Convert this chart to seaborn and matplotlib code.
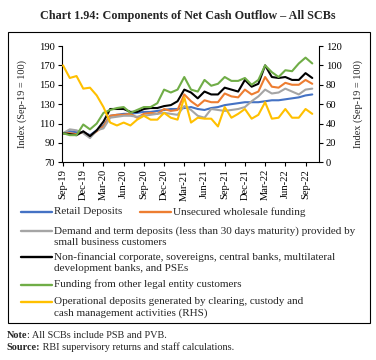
import pandas as pd
import matplotlib
matplotlib.use("Agg")
import matplotlib.pyplot as plt
import seaborn as sns
from matplotlib.lines import Line2D
from matplotlib.patches import Rectangle

# monthly index, Sep-19 = 100
months = pd.date_range("2019-09-01", "2022-10-01", freq="MS").strftime("%b-%y").tolist()

retail = [100, 102, 101, 101, 98, 103, 108, 118, 119, 120, 120, 121, 122, 122, 123, 124,
          125, 125, 126, 127, 125, 124, 126, 127, 129, 130, 131, 132, 132, 132, 133, 134,
          134, 135, 136, 137, 139, 140]
unsecured = [100, 100, 99, 101, 97, 102, 107, 118, 119, 119, 120, 116, 120, 121, 120, 125,
             123, 124, 140, 133, 128, 134, 132, 132, 141, 138, 137, 145, 140, 143, 158, 148,
             147, 152, 150, 150, 155, 151]
demand_term = [100, 104, 103, 100, 95, 103, 105, 116, 117, 118, 118, 117, 118, 119, 120, 121,
               120, 119, 128, 124, 118, 116, 125, 124, 123, 124, 125, 127, 133, 138, 145, 141,
               142, 146, 143, 140, 145, 146]
non_fin = [100, 99, 98, 102, 97, 103, 112, 125, 125, 125, 122, 122, 125, 126, 126, 128,
           129, 133, 145, 142, 136, 143, 140, 140, 147, 145, 143, 155, 148, 151, 170, 158,
           157, 158, 155, 155, 162, 157]
other_legal = [100, 98, 98, 109, 104, 110, 121, 124, 126, 127, 121, 124, 127, 127, 131, 145,
               142, 145, 158, 145, 143, 155, 149, 151, 158, 154, 154, 157, 150, 155, 170, 163,
               158, 165, 164, 172, 178, 172]
# right-hand scale
operational = [100, 87, 89, 76, 77, 69, 57, 41, 38, 41, 38, 44, 48, 44, 44, 51,
               46, 44, 67, 41, 46, 45, 45, 37, 57, 46, 50, 55, 45, 49, 62, 45,
               46, 55, 46, 46, 55, 50]

series_names = [
    "Retail Deposits",
    "Unsecured wholesale funding",
    "Demand and term deposits",
    "Non-financial corporate",
    "Funding from other legal entity customers",
]
series_colors = ["#4472C4", "#ED7D31", "#A5A5A5", "#000000", "#70AD47"]
op_color = "#FFC000"

tick_labels = ["Sep-19", "Dec-19", "Mar-20", "Jun-20", "Sep-20", "Dec-20", "Mar-21",
               "Jun-21", "Sep-21", "Dec-21", "Mar-22", "Jun-22", "Sep-22"]

df = pd.DataFrame({"idx": range(len(months))})
for name, vals in zip(series_names, [retail, unsecured, demand_term, non_fin, other_legal]):
    df[name] = vals
long = df.melt(id_vars="idx", var_name="series", value_name="value")

sns.set_style("ticks")
plt.rcParams["font.family"] = ["Liberation Serif", "DejaVu Serif"]

W, H = 376, 360
fig = plt.figure(figsize=(W / 100, H / 100), dpi=100)
ax = fig.add_axes([61.7 / W, 1 - 162.3 / H, 257.3 / W, 116.3 / H])

sns.lineplot(data=long, x="idx", y="value", hue="series", hue_order=series_names,
             palette=dict(zip(series_names, series_colors)), linewidth=1.5,
             legend=False, ax=ax)
ax2 = ax.twinx()
sns.lineplot(x=df["idx"], y=operational, color=op_color, linewidth=1.5, ax=ax2)

ax.set_xlim(-0.2, 38)
ax.set_ylim(70, 190)
ax.set_yticks(range(70, 191, 20))
ax2.set_ylim(0, 120)
ax2.set_yticks(range(0, 121, 20))
ax.set_xticks(range(0, 37, 3))
ax.set_xticklabels(tick_labels, rotation=90)
ax.set_xlabel("")

for a in (ax, ax2):
    a.tick_params(direction="out", length=3, width=0.8, labelsize=7.6, pad=2, colors="black")
    for s in a.spines.values():
        s.set_linewidth(0.8)
        s.set_color("black")
ax.spines["top"].set_visible(False)
ax.spines["right"].set_visible(False)
ax2.spines["top"].set_visible(False)
ax2.spines["left"].set_visible(False)
ax2.spines["bottom"].set_visible(False)

ax.set_ylabel("Index (Sep-19 = 100)", fontsize=7.4)
ax2.set_ylabel("Index (Sep-19 = 100)", fontsize=7.4)
ax.yaxis.set_label_coords(-0.136, 0.5)
ax2.yaxis.set_label_coords(1.132, 0.5)

# frame and title
fig.patches.append(Rectangle((8.3 / W, 1 - 322.7 / H), 361.7 / W, 291 / H,
                             transform=fig.transFigure, fill=False, edgecolor="black", lw=0.8))
fig.text(0.5, 1 - 16 / H, "Chart 1.94: Components of Net Cash Outflow \u2013 All SCBs",
         ha="center", va="center", fontsize=8.7, fontweight="bold")

# legend, drawn by hand to follow the original layout
legend_rows = [
    (21, 212, series_colors[0], ["Retail Deposits"]),
    (140, 212, series_colors[1], ["Unsecured wholesale funding"]),
    (21, 231, series_colors[2], ["Demand and term deposits (less than 30 days maturity) provided by",
                                 "small business customers"]),
    (21, 257, series_colors[3], ["Non-financial corporate, sovereigns, central banks, multilateral",
                                 "development banks, and PSEs"]),
    (21, 284.5, series_colors[4], ["Funding from other legal entity customers"]),
    (21, 302, op_color, ["Operational deposits generated by clearing, custody and",
                         "cash management activities (RHS)"]),
]
for x0, y0, col, lines in legend_rows:
    fig.add_artist(Line2D([x0 / W, (x0 + 31) / W], [1 - y0 / H, 1 - y0 / H],
                          transform=fig.transFigure, color=col, lw=1.7))
    for k, line in enumerate(lines):
        fig.text((x0 + 33) / W, 1 - (y0 + 11.5 * k) / H, line,
                 ha="left", va="center", fontsize=8)

# notes
n1 = fig.text(6.7 / W, 1 - 336 / H, "Note", ha="left", va="center", fontsize=7.4, fontweight="bold")
ax.annotate(": All SCBs include PSB and PVB.", xy=(1, 0), xycoords=n1, va="bottom",
            ha="left", fontsize=7.4, annotation_clip=False)
n2 = fig.text(6.7 / W, 1 - 347 / H, "Source:", ha="left", va="center", fontsize=7.4, fontweight="bold")
ax.annotate(" RBI supervisory returns and staff calculations.", xy=(1, 0), xycoords=n2,
            va="bottom", ha="left", fontsize=7.4, annotation_clip=False)

fig.savefig("out.png", dpi=100)
